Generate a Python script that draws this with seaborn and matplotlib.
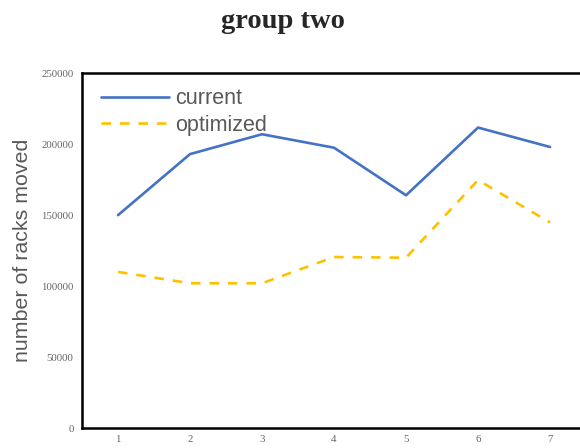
import matplotlib
matplotlib.use("Agg")
import matplotlib.pyplot as plt
import seaborn as sns
import pandas as pd

# Data
groups = [1, 2, 3, 4, 5, 6, 7]
current = [150000, 193000, 207000, 197500, 164000, 211700, 198000]
optimized = [110000, 102000, 102000, 120500, 120000, 174700, 144800]
series_names = ["current", "optimized"]
y_ticks = [0, 50000, 100000, 150000, 200000, 250000]

df = pd.DataFrame({
    "group": groups * 2,
    "racks": current + optimized,
    "series": [series_names[0]] * len(groups) + [series_names[1]] * len(groups),
})

sns.set_style("white")
fig = plt.figure(figsize=(5.8, 4.48), dpi=100)
ax = fig.add_axes([0.1414, 0.0446, 0.869, 0.792])

sns.lineplot(
    data=df, x="group", y="racks", hue="series", style="series",
    palette={"current": "#4472C4", "optimized": "#FFC000"},
    dashes={"current": "", "optimized": (3.6, 3.4)},
    linewidth=1.9, ax=ax, legend=True,
)

ax.set_xlim(0.5, 7.5)
ax.set_ylim(0, 250000)
ax.set_yticks(y_ticks)
ax.set_yticklabels([str(v) for v in y_ticks])
ax.set_xticks(groups)
ax.set_xticklabels([str(g) for g in groups])
ax.tick_params(axis="both", length=0, labelsize=7.8, labelcolor="#666666")
ax.tick_params(axis="y", pad=6)
ax.tick_params(axis="x", pad=5)
for lbl in ax.get_xticklabels() + ax.get_yticklabels():
    lbl.set_family("Liberation Serif")

for s in ax.spines.values():
    s.set_color("black")
    s.set_linewidth(1.8)

ax.set_xlabel("")
ax.set_ylabel("number of racks moved", fontsize=15.4, color="#595959",
              family="Liberation Sans", labelpad=7)

leg = ax.legend(loc="upper left", bbox_to_anchor=(0.007, 1.0), frameon=False,
                handlelength=3.2, handletextpad=0.28, borderaxespad=0.4,
                borderpad=0.3, labelspacing=0.25,
                prop={"family": "Liberation Sans", "size": 15.5})
for t in leg.get_texts():
    t.set_color("#595959")

fig.text(0.488, 0.952, "group two", ha="center", va="center",
         fontsize=20.5, fontweight="bold", family="Liberation Serif")

fig.savefig("out.png", dpi=100)
